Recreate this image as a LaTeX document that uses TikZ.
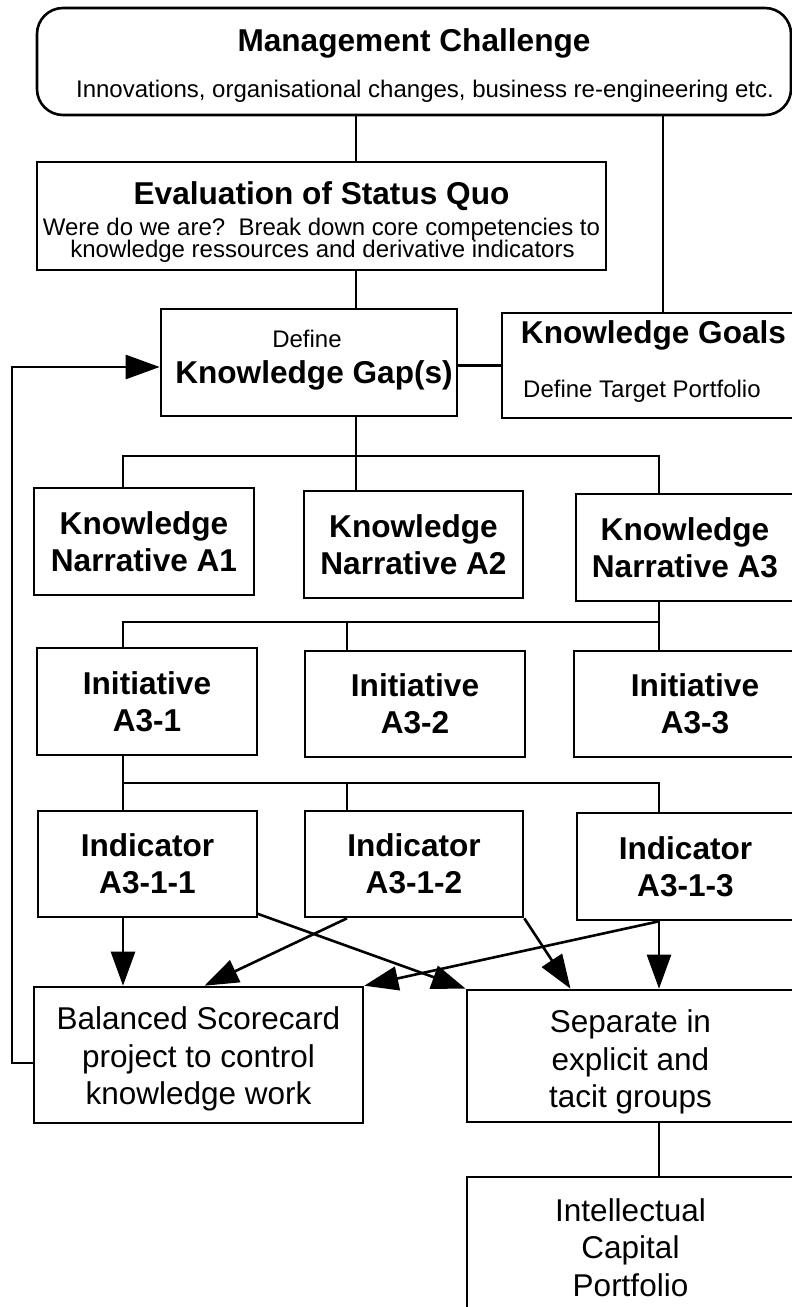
\documentclass[tikz,border=0pt]{standalone}
\usepackage{fontspec}
\setmainfont{Liberation Sans}
\usetikzlibrary{arrows.meta}
\begin{document}
\begin{tikzpicture}[x=1pt,y=-1pt,
  box/.style={draw, line width=2.6pt, rectangle, inner sep=0pt, align=center},
  conn/.style={line width=2.6pt},
  arr/.style={line width=2.6pt, -{Triangle[length=34pt,width=24pt]}},
  big/.style={font=\fontsize{31.6}{37}\selectfont\bfseries},
  small/.style={font=\fontsize{24}{26}\selectfont},
  plain/.style={font=\fontsize{31.5}{37.5}\selectfont},
  txt/.style={inner sep=0pt, align=center},
]
\useasboundingbox (0,0) rectangle (792,1307);
\fill[white] (0,0) rectangle (792,1307);
\clip (0,0) rectangle (792,1307);

% column and bus positions
\coordinate (colA) at (123,0);
\coordinate (colB) at (356,0);
\coordinate (colC) at (659,0);
\coordinate (colD) at (347,0);
\coordinate (colE) at (12,0);
\coordinate (colG) at (663,0);
\coordinate (bus1) at (0,456);
\coordinate (bus2) at (0,622);
\coordinate (bus3) at (0,783);

% top level
\node[box, rounded corners=26pt, minimum width=754pt, minimum height=107pt] (mc) at (414,61.5) {};
\node[txt, big, anchor=base] (mct) at (414,51) {Management Challenge};
\node[txt, small, anchor=base] (mcs) at (425,97) {Innovations, organisational changes, business re-engineering etc.};

\node[box, minimum width=569pt, minimum height=108pt] (ev) at (321.5,216) {};
\node[txt, big, anchor=base] (evt) at (321.5,204) {Evaluation of Status Quo};
\node[txt, small, anchor=base] (ev1) at (321.5,235) {Were do we are?\ \ Break down core competencies to};
\node[txt, small, anchor=base] (ev2) at (322.5,257.5) {knowledge ressources and derivative indicators};

\node[box, minimum width=296pt, minimum height=107pt] (gap) at (309,362.5) {};
\node[txt, small, anchor=base] (gapd) at (307,347) {Define};
\node[txt, big, anchor=base] (gapt) at (314,383) {Knowledge Gap(s)};

\node[box, minimum width=303pt, minimum height=105pt] (kg) at (653.5,365.5) {};
\node[txt, big, anchor=base] (kgt) at (653.5,343) {Knowledge Goals};
\node[txt, small, anchor=base west] (kgs) at (523,397) {Define Target Portfolio};

% narratives
\node[box, big, minimum width=220pt, minimum height=107pt] (a1) at (144,541.5) {Knowledge\\Narrative A1};
\node[box, big, minimum width=219pt, minimum height=107pt] (a2) at (413.5,544.5) {Knowledge\\Narrative A2};
\node[box, big, minimum width=218pt, minimum height=107pt] (a3) at (685,547.5) {Knowledge\\Narrative A3};

% initiatives
\node[box, big, minimum width=220pt, minimum height=107pt] (n1) at (147,701.5) {Initiative\\A3-1};
\node[box, big, minimum width=220pt, minimum height=106pt] (n2) at (415,704) {Initiative\\A3-2};
\node[box, big, minimum width=242pt, minimum height=106pt] (n3) at (695,704) {Initiative\\A3-3};

% indicators
\node[box, big, minimum width=219pt, minimum height=106pt] (i1) at (147.5,864) {Indicator\\A3-1-1};
\node[box, big, minimum width=218pt, minimum height=106pt] (i2) at (414,864) {Indicator\\A3-1-2};
\node[box, big, minimum width=217pt, minimum height=107pt] (i3) at (685.5,866.5) {Indicator\\A3-1-3};

% results
\node[box, minimum width=329pt, minimum height=136pt] (bal) at (198.5,1055) {};
\node[txt, plain] (balt) at ([yshift=-4pt]bal.center) {Balanced Scorecard\\project to control\\knowledge work};
\node[box, minimum width=327pt, minimum height=132pt] (sep) at (630.5,1056) {};
\node[txt, plain] (sept) at ([yshift=-6pt]sep.center) {Separate in\\explicit and\\tacit groups};
\node[box, minimum width=327pt, minimum height=143pt] (ic) at (630.5,1248.5) {};
\node[txt, plain] (ict) at ([yshift=1pt]ic.center) {Intellectual\\Capital\\Portfolio};

% tree connectors
\draw[conn] (mc.south -| colB) -- (ev.north -| colB);
\draw[conn] (ev.south -| colB) -- (gap.north -| colB);
\draw[conn] (mc.south -| colG) -- (kg.north -| colG);
\draw[conn] (gap.east |- kg.west) -- (kg.west);
\draw[conn] (gap.south -| colB) -- (a2.north -| colB);
\draw[conn] (a1.north -| colA) |- (colC |- bus1) -- (a3.north -| colC);
\draw[conn] (a3.south -| colC) -- (colC |- bus2) -| (n1.north -| colA);
\draw[conn] (colC |- bus2) -- (n3.north -| colC);
\draw[conn] (colD |- bus2) -- (n2.north -| colD);
\draw[conn] (n1.south -| colA) |- (colC |- bus3) -- (i3.north -| colC);
\draw[conn] (colA |- bus3) -- (i1.north -| colA);
\draw[conn] (colD |- bus3) -- (i2.north -| colD);
\draw[conn] (sep.south -| colC) -- (ic.north -| colC);

% indicator arrows
\draw[arr] (i1.south -| colA) -- (bal.north -| colA);
\draw[arr] ([shift={(-2,-5)}]i1.south east) -- (sep.north west);
\draw[arr] (i2.south -| colD) -- ([xshift=6pt]bal.north);
\draw[arr] (i2.south east) -- ([xshift=-60pt]sep.north);
\draw[arr] (i3.south -| colC) -- (bal.north east);
\draw[arr] (i3.south -| colC) -- (sep.north -| colC);

% feedback loop
\draw[arr] ([yshift=-8pt]bal.west) -- ([yshift=-8pt]bal.west -| colE) |- ([yshift=-4.5pt]gap.west);
\end{tikzpicture}
\end{document}
